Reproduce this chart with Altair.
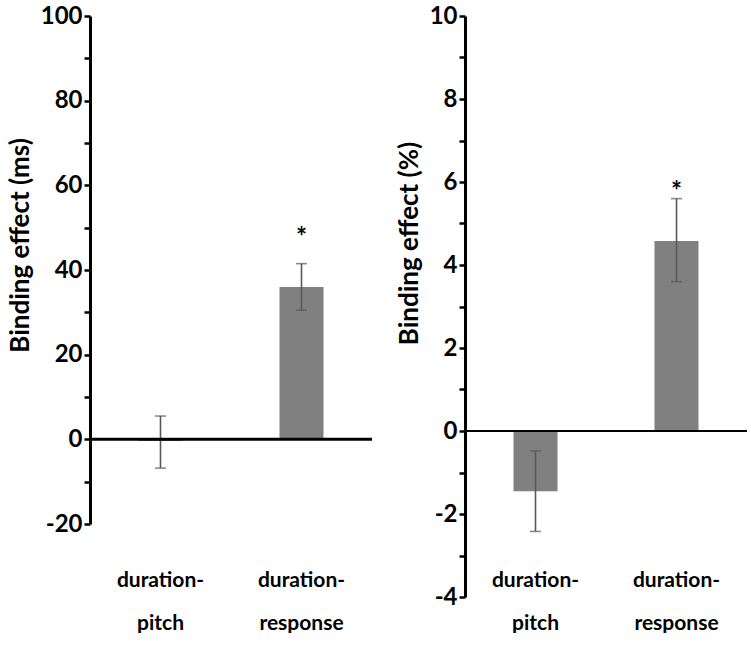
import altair as alt
import pandas as pd

# Conditions and the significance marker for each
categories = ["duration-pitch", "duration-response"]
sig = ["", "*"]

# Binding effect in reaction time (ms): mean and error-bar bounds
ms_mean = [-0.4, 36.0]
ms_lo = [-6.8, 30.5]
ms_hi = [5.5, 41.5]
ms_star = [0.0, 47.5]

# Binding effect in accuracy (%): mean and error-bar bounds
pct_mean = [-1.45, 4.58]
pct_lo = [-2.42, 3.6]
pct_hi = [-0.48, 5.6]
pct_star = [0.0, 5.76]

FONT = "Lato"
BAR = "#808080"
ERR = "#595959"


def panel(mean, lo, hi, star, title, domain, ticks, step, height, top_gap,
          label_pad, zero_w, title_y):
    df = pd.DataFrame({"cond": categories, "mean": mean, "lo": lo, "hi": hi,
                       "sig": sig, "star": star})
    yscale = alt.Scale(domain=domain, nice=False, zero=False, range=[height, top_gap])
    yaxis = alt.Axis(
        title=title, values=ticks, grid=False,
        labelExpr=f"datum.value % {step} == 0 ? '' + datum.value : ''",
        labelOverlap=False, labelFont=FONT, labelFontSize=24, labelFontWeight="bold",
        labelColor="black", labelPadding=2,
        titleFont=FONT, titleFontSize=26, titleFontWeight="bold", titleColor="black",
        titlePadding=7, titleY=title_y,
        domainColor="black", domainWidth=3, tickColor="black", tickWidth=2.5, tickSize=6,
    )
    x = alt.X(
        "cond:N", sort=categories,
        scale=alt.Scale(paddingInner=0, paddingOuter=0),
        axis=alt.Axis(
            title=None, domain=False, ticks=False, labelAngle=0, labelPadding=label_pad,
            labelFont=FONT, labelFontSize=21, labelFontWeight="bold", labelColor="black",
            labelBaseline="top", labelLineHeight=43,
            labelExpr="[split(datum.label, '-')[0] + '-', split(datum.label, '-')[1]]",
        ),
    )
    base = alt.Chart(df)
    bars = base.mark_bar(size=44, color=BAR).encode(
        x=x, y=alt.Y("mean:Q", scale=yscale, axis=yaxis))
    err = base.mark_rule(color=ERR, strokeWidth=1.6).encode(
        x=x, y=alt.Y("lo:Q", scale=yscale, axis=yaxis), y2="hi:Q")
    cap_hi = base.mark_tick(color=ERR, size=11, thickness=1.6, orient="horizontal").encode(
        x=x, y=alt.Y("hi:Q", scale=yscale, axis=yaxis))
    cap_lo = base.mark_tick(color=ERR, size=11, thickness=1.6, orient="horizontal").encode(
        x=x, y=alt.Y("lo:Q", scale=yscale, axis=yaxis))
    zero = alt.Chart(pd.DataFrame({"z": [0]})).mark_rule(
        color="black", strokeWidth=zero_w).encode(
        y=alt.Y("z:Q", scale=yscale, axis=yaxis))
    stars = base.transform_filter("datum.sig != ''").mark_text(
        font=FONT, fontSize=26, fontWeight="bold", color="black", baseline="middle").encode(
        x=x, y=alt.Y("star:Q", scale=yscale, axis=yaxis), text="sig:N")
    return alt.layer(bars, err, cap_hi, cap_lo, zero, stars).properties(
        width=282, height=height)


left = panel(ms_mean, ms_lo, ms_hi, ms_star, "Binding effect (ms)", [-20, 100],
             list(range(-20, 101, 10)), 20, 508, 0, 45, 3, 229)
right = panel(pct_mean, pct_lo, pct_hi, pct_star, "Binding effect (%)", [-4, 10],
              list(range(-4, 11, 1)), 2, 581, 0, -28, 2.2, 227)

chart = alt.hconcat(left, right, spacing=22).properties(
    padding={"left": 7, "top": 4, "right": 0, "bottom": 0},
    background="white",
).configure_view(stroke=None)

chart.save("out.html", embed_options={"renderer": "svg", "actions": False})
